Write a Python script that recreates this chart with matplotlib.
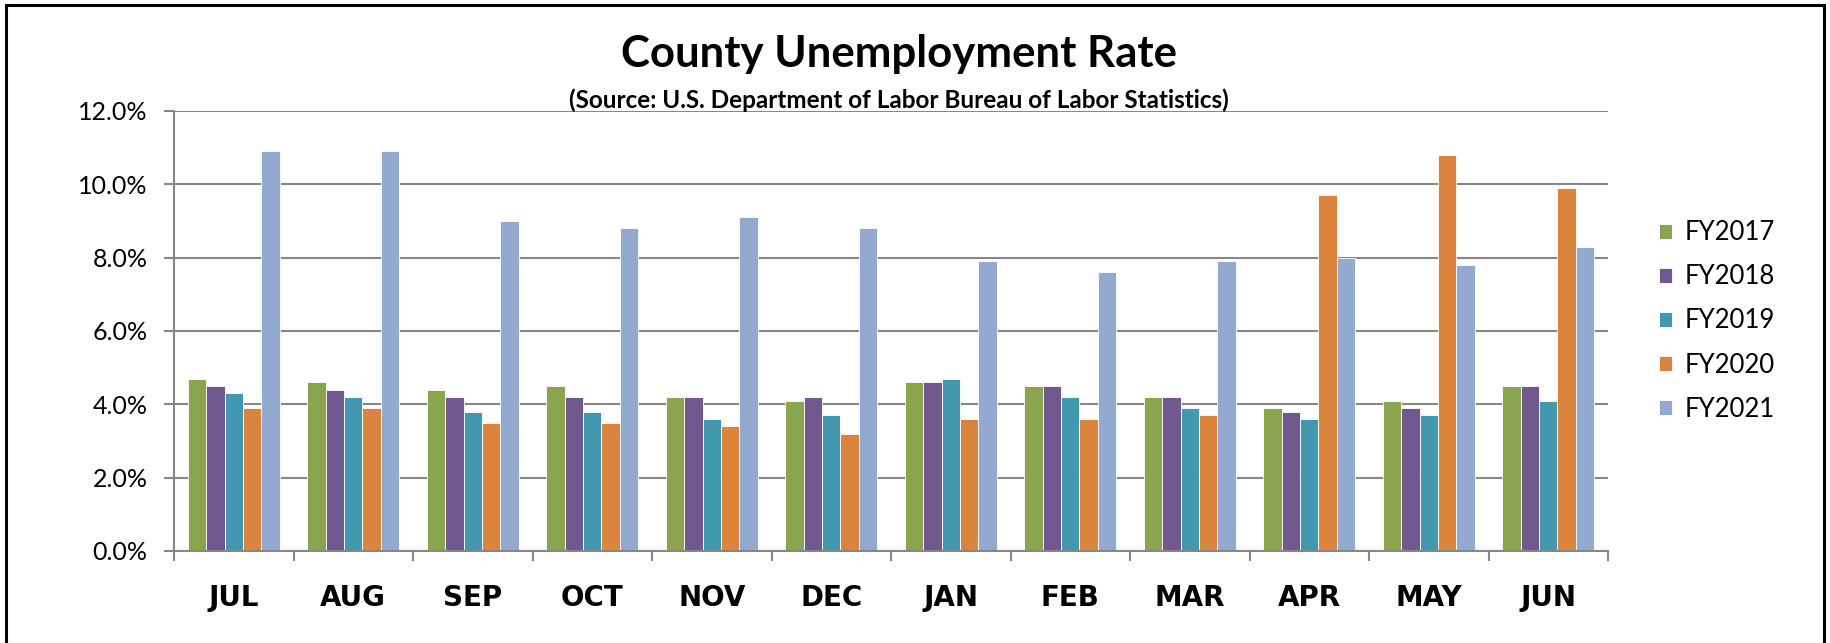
import matplotlib
matplotlib.use('Agg')
import matplotlib.pyplot as plt
import matplotlib.patches as patches
from matplotlib.ticker import FuncFormatter, FixedLocator
import numpy as np

plt.rcParams['font.family'] = ['Lato', 'DejaVu Sans']

meses = ['JUL', 'AUG', 'SEP', 'OCT', 'NOV', 'DEC', 'JAN', 'FEB', 'MAR', 'APR', 'MAY', 'JUN']
series = ['FY2017', 'FY2018', 'FY2019', 'FY2020', 'FY2021']
fy2017 = [4.7, 4.6, 4.4, 4.5, 4.2, 4.1, 4.6, 4.5, 4.2, 3.9, 4.1, 4.5]
fy2018 = [4.5, 4.4, 4.2, 4.2, 4.2, 4.2, 4.6, 4.5, 4.2, 3.8, 3.9, 4.5]
fy2019 = [4.3, 4.2, 3.8, 3.8, 3.6, 3.7, 4.7, 4.2, 3.9, 3.6, 3.7, 4.1]
fy2020 = [3.9, 3.9, 3.5, 3.5, 3.4, 3.2, 3.6, 3.6, 3.7, 9.7, 10.8, 9.9]
fy2021 = [10.9, 10.9, 9.0, 8.8, 9.1, 8.8, 7.9, 7.6, 7.9, 8.0, 7.8, 8.3]
colores = ['#8BA54E', '#71588F', '#4198AF', '#DB843D', '#93A9CF']

valores = [fy2017, fy2018, fy2019, fy2020, fy2021]

fig = plt.figure(figsize=(18.3, 6.43), dpi=100)
ax = fig.add_axes([174 / 1830, 1 - 551 / 643, (1608 - 174) / 1830, (551 - 111) / 643])

x = np.arange(len(meses))
ancho = 0.154
for i, (serie, vals, color) in enumerate(zip(series, valores, colores)):
    offset = (i - 2) * ancho
    ax.bar(x + offset, np.array(vals) / 100, ancho, color=color, label=serie,
           edgecolor='white', linewidth=0.6, zorder=3)

ax.set_xlim(-0.5, len(meses) - 0.5)
ax.set_ylim(0, 0.12)
ax.set_yticks(np.arange(0, 0.121, 0.02))
ax.yaxis.set_major_formatter(FuncFormatter(lambda v, p: f'{v * 100:.1f}%'))
ax.grid(axis='y', color='#878787', linewidth=1.5, zorder=1)
ax.set_axisbelow(True)

for s in ['top', 'right']:
    ax.spines[s].set_visible(False)
for s in ['left', 'bottom']:
    ax.spines[s].set_color('#878787')
    ax.spines[s].set_linewidth(1.5)
    ax.spines[s].set_zorder(4)

ax.set_xticks(x)
ax.set_xticklabels(meses, fontsize=20, fontweight='bold', family=['DejaVu Sans'])
ax.xaxis.set_minor_locator(FixedLocator(np.arange(-0.5, len(meses), 1)))
ax.tick_params(axis='x', which='major', length=0, pad=24)
ax.tick_params(axis='x', which='minor', length=7, width=1.5, color='#878787')
ax.tick_params(axis='y', length=7, width=1.5, color='#878787', labelsize=18, pad=12)

fig.text(0.4913, 1 - 54 / 643, 'County Unemployment Rate', ha='center', va='center',
         fontsize=31.5, fontweight='bold')
fig.text(0.4913, 1 - 100 / 643, '(Source: U.S. Department of Labor Bureau of Labor Statistics)',
         ha='center', va='center', fontsize=17.5, fontweight='bold')

fig.legend(loc='center left', bbox_to_anchor=(1636 / 1830, 1 - 321 / 643), frameon=False,
           fontsize=18.5, handlelength=0.5, handleheight=0.5, handletextpad=0.5,
           labelspacing=0.74)

borde = patches.Rectangle((6 / 1830, -0.05), (1824 - 6) / 1830, 1.05 - 5 / 643,
                          transform=fig.transFigure, fill=False, edgecolor='black',
                          linewidth=2.2)
fig.patches.append(borde)

fig.savefig('out.png', dpi=100)
